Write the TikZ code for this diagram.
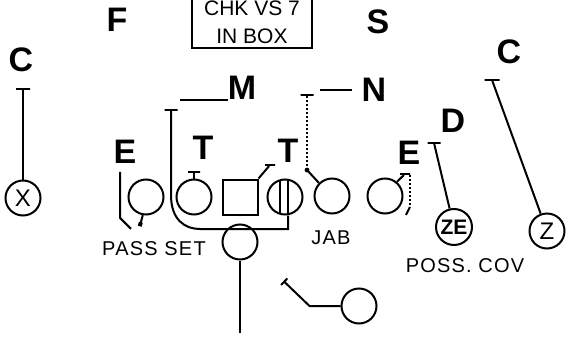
\documentclass[tikz,border=0pt]{standalone}
\usepackage{fontspec}
\setmainfont{Liberation Sans}
\usetikzlibrary{arrows.meta}

\tikzset{
  man/.style={draw, circle, minimum size=35pt, inner sep=0pt, line width=2pt},
  ctr/.style={draw, rectangle, minimum size=35pt, inner sep=0pt, line width=2pt},
  tbar/.style={draw, rectangle, minimum width=13pt, minimum height=0pt, inner sep=0pt, line width=2pt},
  dlabel/.style={font=\fontsize{34}{34}\selectfont\bfseries, inner sep=0pt},
  note/.style={font=\fontsize{20}{20}\selectfont\addfontfeature{LetterSpace=6}, inner sep=0pt},
  route/.style={line width=2pt},
}

\begin{document}
\begin{tikzpicture}[x=1pt, y=-1pt, >=stealth]
  \useasboundingbox (0,0) rectangle (578,345);
  \clip (0,0) rectangle (578,345);

  % call
  \node[draw, line width=2pt, align=center, font=\fontsize{21}{28}\selectfont,
        minimum width=120pt, inner ysep=4pt, anchor=south] (chk) at (252,49) {CHK VS 7\\IN BOX};

  % defense
  \node[dlabel] (f)  at (117,20)  {F};
  \node[dlabel] (s)  at (378,22)  {S};
  \node[dlabel] (cl) at (21,60)   {C};
  \node[dlabel] (cr) at (509,52)  {C};
  \node[dlabel] (m)  at (242,88)  {M};
  \node[dlabel] (n)  at (374,90)  {N};
  \node[dlabel] (d)  at (453,121) {D};
  \node[dlabel] (el) at (125,152) {E};
  \node[dlabel] (tl) at (203,148) {T};
  \node[dlabel] (tr) at (288,151) {T};
  \node[dlabel] (er) at (409,153) {E};

  % offense
  \node[man] (wx) at (23,198)  {\fontsize{24}{24}\selectfont X};
  \node[man] (lt) at (146,197) {};
  \node[man] (lg) at (194,197) {};
  \node[ctr] (ce) at (240,197) {};
  \node[man] (rg) at (285,197) {};
  \node[man] (rt) at (332,196) {};
  \node[man] (te) at (385,196) {};
  \node[man] (qb) at (240,242) {};
  \node[man, minimum size=36pt] (ze) at (454,227) {\fontsize{21}{21}\selectfont\bfseries ZE};
  \node[man] (wz) at (547,231) {\fontsize{24}{24}\selectfont Z};
  \node[man] (hb) at (359,306) {};

  % notes
  \node[note] (pass) at (154,249) {PASS SET};
  \node[note] (jab)  at (331,238) {JAB};
  \node[note] (cov)  at (465,266) {POSS. COV};

  % bars
  \node[tbar, minimum width=14pt] (bcl) at (23,89)   {};
  \node[tbar, minimum width=15pt] (bcr) at (492,80)  {};
  \node[tbar] (bm)  at (171,110) {};
  \node[tbar] (bn)  at (307,95)  {};
  \node[tbar] (bd)  at (434,143) {};
  \node[tbar, minimum width=12pt] (blg) at (194,172) {};
  \node[tbar, minimum width=10pt] (bce) at (270,165) {};
  \node[tbar, minimum width=10pt] (bte) at (405,174) {};

  \draw[route] (bcl) -- (wx);
  \draw[route] (bcr) -- (wz);
  \draw[route] (bd) -- (ze);
  \draw[route] (blg) -- (lg);
  \draw[route] (ce.north east) -- (bce);
  \draw[route] (te.50) -- (bte);

  % M and N marks
  \draw[route] (m.base west) -- ++(-48,0) coordinate (mend);
  \draw[route] ([xshift=-10pt]n.west) -- ++(-32,0) coordinate (nend);

  % N read on the jab
  \draw[route, dotted] (bn) -- (307,170) coordinate (nturn);
  \fill (nturn) circle (2.4pt);
  \draw[route] (nturn) -- (rt.135);

  % pull on M
  \draw[route] (bm) -- (171,195) .. controls (171,220) and (185,229) .. (200,229)
    -| ([xshift=3pt]rg.south);
  \draw[route] ([xshift=-5pt]rg.center) ++(0,-16.8) -- ++(0,33.6);
  \draw[route] ([xshift=3pt]rg.center) ++(0,-17.2) -- ++(0,34.4);

  % ends
  \draw[route, dotted] ([shift={(1,10)}]er.south) -- ++(0,32) coordinate (erd);
  \draw[route] (erd) -- ++(-4,8);
  \draw[route] ([shift={(-5,8)}]el.south) -- ++(0,46) -- ++(11,11) coordinate (elend);
  \draw[route, -{Square[length=4pt,width=4pt]}] (lt.-100) -- ++(-3,11);

  % backs
  \draw[route] (qb.south) -- ++(0,72) coordinate (qbend);
  \draw[route, -{Bar[width=9pt]}] (hb.west) -- ++(-31,0) -- ++(-26,-25) coordinate (hbend);
\end{tikzpicture}
\end{document}
